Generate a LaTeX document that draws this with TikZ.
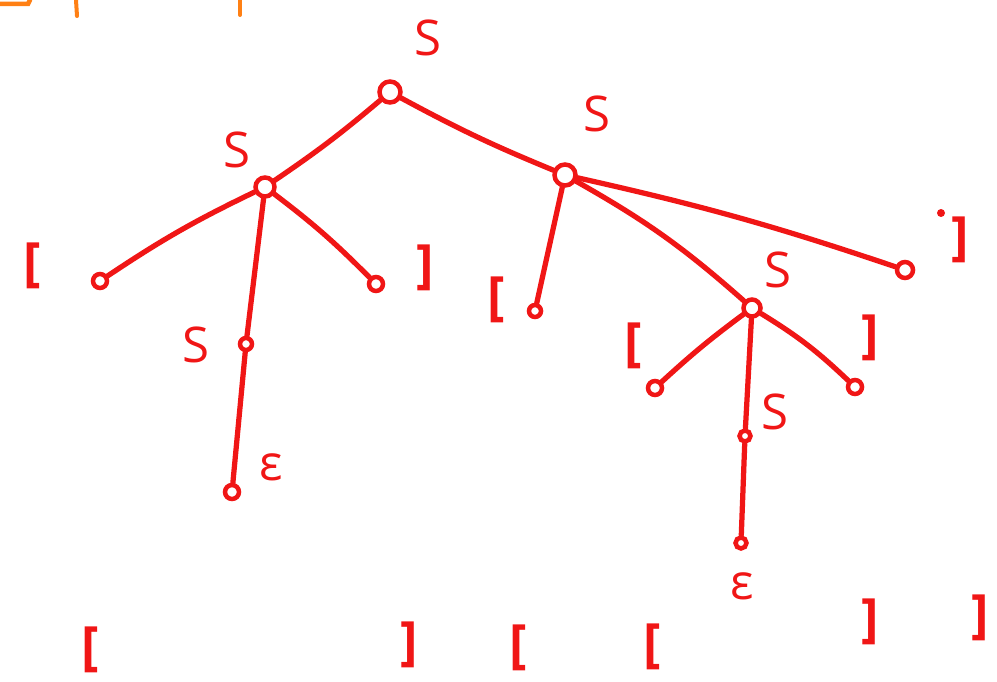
\documentclass[tikz,border=0pt]{standalone}
\usepackage{fontspec}
\setmainfont{Open Sans}
\definecolor{pen}{RGB}{240,22,22}
\definecolor{orangepen}{RGB}{255,128,20}
\tikzset{
  leaf/.style={circle,draw=pen,line width=0.09cm,inner sep=0pt,minimum size=#1},
  leaf/.default=0.28cm,
  edge/.style={draw=pen,line width=0.105cm,line cap=round},
  lbl/.style={text=pen,font=\fontsize{28}{32}\selectfont,inner sep=0pt},
  brk/.style={text=pen,font=\bfseries\fontsize{30}{34}\selectfont,inner sep=0pt},
}
\begin{document}
\begin{tikzpicture}[x=0.02cm,y=-0.02cm]
\useasboundingbox (0,0) rectangle (997,682);
% orange partial strokes at top-left
\draw[orangepen,line width=0.09cm,line cap=round] (0,4) -- (28,4) -- (30,0);
\draw[orangepen,line width=0.08cm,line cap=round] (76,0) -- (77,16);
\draw[orangepen,line width=0.08cm,line cap=round] (240,0) -- (240,15);
% nodes
\node[leaf=0.42cm] (R) at (390,92) {};
\node[leaf=0.38cm] (L) at (265,187) {};
\node[leaf] (L1) at (100,281) {};
\node[leaf] (L3) at (376,284) {};
\node[leaf=0.24cm] (LS) at (246,344) {};
\node[leaf] (Le) at (232,492) {};
\node[leaf=0.42cm] (Rn) at (565,175) {};
\node[leaf=0.24cm] (R1) at (535,311) {};
\node[leaf=0.34cm] (RS) at (752,308) {};
\node[leaf=0.32cm] (R3) at (905,270) {};
\node[leaf] (RS1) at (655,388) {};
\node[leaf] (RS3) at (855,387) {};
\node[leaf=0.22cm] (RSS) at (745,436) {};
\node[leaf=0.22cm] (Re) at (741,543) {};
% edges
\draw[edge] (R) to[bend left=3] (L);
\draw[edge] (R) to[bend right=3] (Rn);
\draw[edge] (L) to[bend right=4] (L1);
\draw[edge] (L) to[bend left=4] (L3);
\draw[edge] (L) -- (LS);
\draw[edge] (LS) -- (Le);
\draw[edge] (Rn) -- (R1);
\draw[edge] (Rn) to[bend left=6] (RS);
\draw[edge] (Rn) to[bend left=3] (R3);
\draw[edge] (RS) to[bend right=3] (RS1);
\draw[edge] (RS) to[bend left=6] (RS3);
\draw[edge] (RS) -- (RSS);
\draw[edge] (RSS) -- (Re);
% labels
\node[lbl] (tS) at (428,38) {S};
\node[lbl] (tL) at (237,150) {S};
\node[lbl] (tRn) at (597,114) {S};
\node[lbl] (tLS) at (196,345) {S};
\node[lbl] (tLe) at (271,467) {ε};
\node[lbl] (tRS) at (778,270) {S};
\node[lbl] (tRSS) at (775,412) {S};
\node[lbl] (tRe) at (742,586) {ε};
\node[brk] (b1) at (32,266) {[};
\node[brk] (b2) at (425,268) {]};
\node[brk] (b3) at (496,300) {[};
\node[brk] (b4) at (960,240) {]};
\fill[pen] (941,213) circle (0.08cm);
\node[brk] (b5) at (633,346) {[};
\node[brk] (b6) at (870,338) {]};
% bottom brackets
\node[brk] (c1) at (90,650) {[};
\node[brk] (c2) at (409,645) {]};
\node[brk] (c3) at (518,648) {[};
\node[brk] (c4) at (652,647) {[};
\node[brk] (c5) at (870,622) {]};
\node[brk] (c6) at (980,618) {]};
\end{tikzpicture}
\end{document}
